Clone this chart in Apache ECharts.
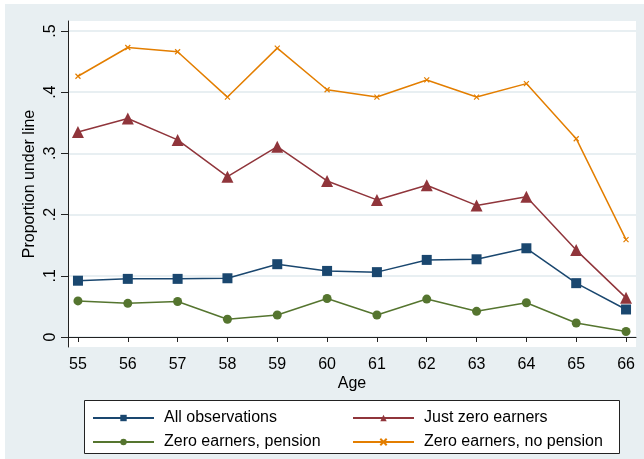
<!DOCTYPE html>
<html>
<head>
<meta charset="utf-8">
<script src="https://cdn.jsdelivr.net/npm/echarts@6/dist/echarts.min.js"></script>
<style>
html,body{margin:0;padding:0;background:#ffffff;}
#bg{position:absolute;left:5px;top:4px;width:639px;height:455px;background:#e8eff2;}
#c{position:absolute;left:0;top:0;width:644px;height:459px;}
</style>
</head>
<body>
<div id="bg"></div>
<div id="c"></div>
<script>
const ages = [55, 56, 57, 58, 59, 60, 61, 62, 63, 64, 65, 66];
const allObservations = [0.092, 0.095, 0.095, 0.096, 0.119, 0.108, 0.106, 0.126, 0.127, 0.145, 0.088, 0.045];
const justZeroEarners = [0.335, 0.357, 0.322, 0.262, 0.311, 0.255, 0.224, 0.248, 0.215, 0.229, 0.142, 0.064];
const zeroEarnersPension = [0.059, 0.055, 0.058, 0.029, 0.036, 0.063, 0.036, 0.062, 0.042, 0.056, 0.023, 0.009];
const zeroEarnersNoPension = [0.426, 0.473, 0.466, 0.392, 0.472, 0.404, 0.392, 0.420, 0.392, 0.414, 0.324, 0.159];
const yTicks = [0, 0.1, 0.2, 0.3, 0.4, 0.5];
const yTickLabels = ['0', '.1', '.2', '.3', '.4', '.5'];
const seriesNames = ['All observations', 'Just zero earners', 'Zero earners, pension', 'Zero earners, no pension'];

const FONT = '"Liberation Sans", Arial, sans-serif';
const chart = echarts.init(document.getElementById('c'));

function pairs(vals) { return ages.map((a, i) => [a, vals[i]]); }

const colors = ['#1a476f', '#90353b', '#55752f', '#e37e00'];
const symbols = ['rect', 'triangle', 'circle', 'path://M0,0L10,10M10,0L0,10'];
const sizes = [10, 12, 9, 5];
const datasets = [allObservations, justZeroEarners, zeroEarnersPension, zeroEarnersNoPension];

const series = datasets.map((d, i) => ({
  name: seriesNames[i],
  type: 'line',
  data: pairs(d),
  symbol: symbols[i],
  symbolSize: sizes[i],
  showAllSymbol: true,
  lineStyle: { color: colors[i], width: 1.5 },
  itemStyle: i === 3 ? { color: colors[i], borderColor: colors[i], borderWidth: 1.2 } : { color: colors[i], borderWidth: 0 },
  emphasis: { disabled: true },
  animation: false,
  z: 3
}));

const legendBase = {
  orient: 'vertical',
  top: 410,
  padding: 0,
  itemWidth: 61,
  itemHeight: 8,
  itemGap: 8,
  selectedMode: false,
  textStyle: { fontFamily: FONT, fontSize: 16, color: '#000', padding: [0, 0, 0, 5] }
};

chart.setOption({
  animation: false,
  textStyle: { fontFamily: FONT },
  grid: {
    left: 68, top: 21, right: 8, bottom: 112,
    show: true, backgroundColor: '#ffffff', borderWidth: 0
  },
  xAxis: {
    type: 'value',
    min: 54.8, max: 66.2,
    name: 'Age',
    nameLocation: 'middle',
    nameGap: 29,
    nameMoveOverlap: false,
    nameTextStyle: { fontFamily: FONT, fontSize: 16, color: '#000' },
    axisLine: { show: true, lineStyle: { color: '#222', width: 1 } },
    axisTick: { show: true, length: 5, lineStyle: { color: '#222' }, customValues: ages },
    axisLabel: { margin: 10, fontFamily: FONT, fontSize: 16, color: '#000', customValues: ages },
    splitLine: { show: false }
  },
  yAxis: {
    type: 'value',
    min: -0.0163, max: 0.5163,
    name: 'Proportion under line',
    nameLocation: 'middle',
    nameGap: 30,
    nameMoveOverlap: false,
    nameRotate: 90,
    nameTextStyle: { fontFamily: FONT, fontSize: 16, color: '#000' },
    axisLine: { show: true, lineStyle: { color: '#222', width: 1 } },
    axisTick: { show: true, length: 7, lineStyle: { color: '#222' }, customValues: yTicks },
    axisLabel: {
      rotate: 90, margin: 9, fontFamily: FONT, fontSize: 16, color: '#000',
      customValues: yTicks,
      formatter: v => { const i = yTicks.findIndex(t => Math.abs(t - v) < 1e-9); return i >= 0 ? yTickLabels[i] : ''; }
    },
    splitLine: { show: true, lineStyle: { color: '#e8eff2', width: 2 } }
  },
  legend: [
    Object.assign({}, legendBase, { left: 92, data: [seriesNames[0], seriesNames[2]] }),
    Object.assign({}, legendBase, { left: 352, data: [seriesNames[1], seriesNames[3]] })
  ],
  graphic: [{
    type: 'rect',
    z: 0,
    shape: { x: 84.5, y: 400.5, width: 535, height: 53 },
    style: { fill: '#ffffff', stroke: '#222', lineWidth: 1 }
  }],
  series: series
});
</script>
</body>
</html>
